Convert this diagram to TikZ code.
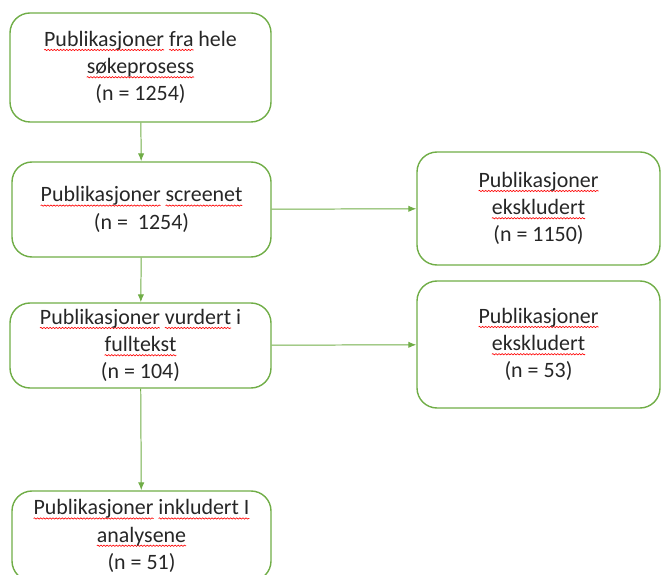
\documentclass[tikz,border=0pt]{standalone}
\usepackage{fontspec}
\setmainfont{Carlito}
\usetikzlibrary{arrows.meta,decorations.pathmorphing}
\definecolor{boxgreen}{HTML}{70AD47}
\definecolor{txtgray}{HTML}{262626}
% red spell-check wave under a word
\newsavebox{\sqbox}
\newcommand{\sq}[1]{\sbox{\sqbox}{#1}\rlap{\tikz[overlay,baseline=0pt]\draw[red,sharp corners,line width=0.45pt,
    decorate,decoration={snake,amplitude=0.45pt,segment length=2.2pt}] (0,-2.6pt) -- (\wd\sqbox,-2.6pt);}\usebox{\sqbox}}
\begin{document}
\begin{tikzpicture}[>={Latex[length=2mm,width=1.6mm]},
    pbox/.style={draw=boxgreen, line width=1pt, rounded corners=0.5cm, align=center,
        text=txtgray, inner sep=0pt, font=\fontsize{15.6}{19.4}\selectfont},
    flow/.style={->, draw=boxgreen, line width=0.7pt}]
    \useasboundingbox (0,0) rectangle (16.525,14.35);
    \node[pbox, minimum width=6.525cm, minimum height=2.725cm] (hele) at (3.5125,12.6625)
        {\sq{Publikasjoner} \sq{fra} hele\\\sq{søkeprosess}\\(n = 1254)};
    \node[pbox, minimum width=6.475cm, minimum height=2.375cm] (screenet) at (3.5375,9.1125)
        {\sq{Publikasjoner} \sq{screenet}\\(n = ~1254)};
    \node[pbox, minimum width=6.075cm, minimum height=2.825cm] (eks1) at (13.4625,9.1375)
        {\sq{Publikasjoner}\\\sq{ekskludert}\\(n = 1150)};
    \node[pbox, minimum width=6.525cm, minimum height=2.125cm] (vurdert) at (3.5125,5.7125)
        {\sq{Publikasjoner} \sq{vurdert} i\\\sq{fulltekst}\\(n = 104)};
    \node[pbox, minimum width=6.075cm, minimum height=3.175cm] (eks2) at (13.4625,5.7375)
        {\sq{Publikasjoner}\\\sq{ekskludert}\\(n = 53)};
    \node[pbox, minimum width=6.475cm, minimum height=2.25cm] (inkl) at (3.5375,0.95)
        {\sq{Publikasjoner} \sq{inkludert I}\\\sq{analysene}\\(n = 51)};
    \draw[flow] (hele) -- (screenet);
    \draw[flow] (screenet) -- (eks1);
    \draw[flow] (screenet) -- (vurdert);
    \draw[flow] (vurdert) -- (eks2);
    \draw[flow] (vurdert) -- (inkl);
\end{tikzpicture}
\end{document}
